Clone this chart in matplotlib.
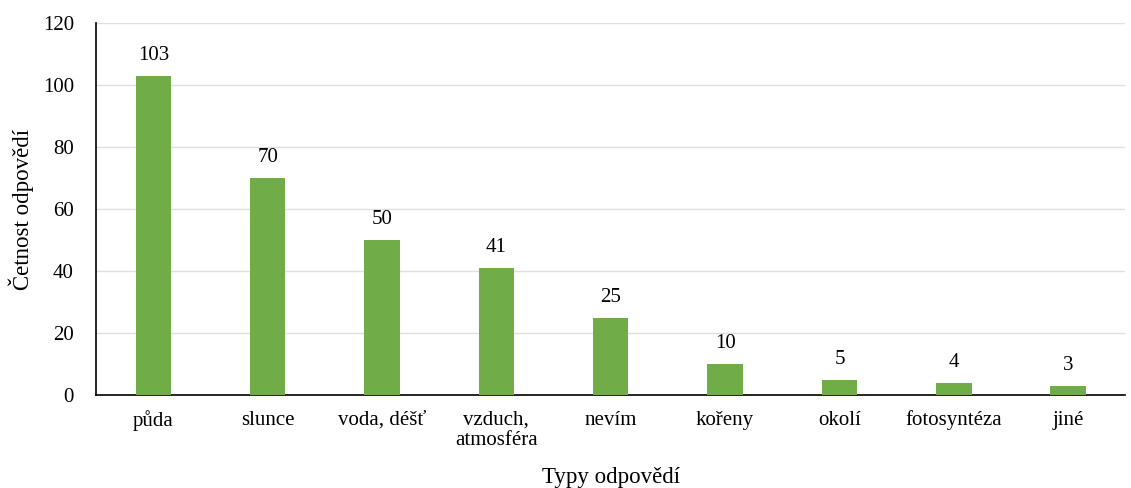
import matplotlib.pyplot as plt

categories = ["půda", "slunce", "voda, déšť", "vzduch,\natmosféra", "nevím",
              "kořeny", "okolí", "fotosyntéza", "jiné"]
counts = [103, 70, 50, 41, 25, 10, 5, 4, 3]
y_ticks = [0, 20, 40, 60, 80, 100, 120]

plt.rcParams["font.family"] = ["Liberation Serif", "DejaVu Serif"]

fig = plt.figure(figsize=(11.31, 4.88), dpi=100)
ax = fig.add_axes([0.085, 0.19, 0.91, 0.763])

x = range(len(categories))
bars = ax.bar(x, counts, width=0.31, color="#70AD47", zorder=3)
for b, v in zip(bars, counts):
    ax.text(b.get_x() + b.get_width() / 2, v + 3.5, str(v),
            ha="center", va="bottom", fontsize=15)

ax.set_xlim(-0.5, len(categories) - 0.5)
ax.set_ylim(0, 120)
ax.set_yticks(y_ticks)
ax.set_xticks(list(x))
ax.set_xticklabels(categories, fontsize=15, linespacing=1.1)
ax.tick_params(axis="y", labelsize=15, length=0, pad=16)
ax.tick_params(axis="x", length=0, pad=11)
ax.yaxis.grid(True, color="#e0e0e0", linewidth=1, zorder=0)

for s in ["top", "right"]:
    ax.spines[s].set_visible(False)
for s in ["left", "bottom"]:
    ax.spines[s].set_linewidth(1.2)
    ax.spines[s].set_color("black")

ax.set_ylabel("Četnost odpovědí", fontsize=16.5, labelpad=6)
ax.set_xlabel("Typy odpovědí", fontsize=16.5, labelpad=12)

fig.savefig("out.png", dpi=100)
